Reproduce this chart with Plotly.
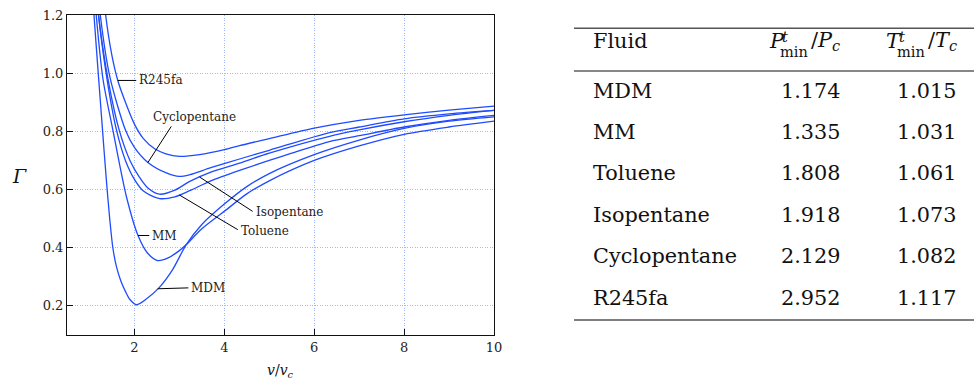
import numpy as np
import plotly.graph_objects as go

# ---------------- data ----------------
fluids = ["MDM", "MM", "Toluene", "Isopentane", "Cyclopentane", "R245fa"]
p_min = ["1.174", "1.335", "1.808", "1.918", "2.129", "2.952"]
t_min = ["1.015", "1.031", "1.061", "1.073", "1.082", "1.117"]

v_MDM = [1.08, 1.10, 1.20, 1.29, 1.375, 1.45, 1.52, 1.60, 1.70, 1.80, 1.90, 2.05, 2.25, 2.55, 2.85, 3.15, 3.50, 4.00, 4.50, 5.00, 6.00, 7.00, 8.00, 9.00, 10.0]
g_MDM = [1.25, 1.20, 0.99, 0.805, 0.634, 0.50, 0.40, 0.335, 0.285, 0.25, 0.222, 0.204, 0.222, 0.263, 0.325, 0.41, 0.48, 0.55, 0.61, 0.655, 0.72, 0.77, 0.81, 0.835, 0.850]

v_MM = [1.12, 1.15, 1.30, 1.52, 1.82, 2.08, 2.30, 2.52, 2.75, 3.00, 3.15, 3.50, 4.00, 4.50, 5.00, 6.00, 7.00, 8.00, 9.00, 10.0]
g_MM = [1.26, 1.20, 0.98, 0.805, 0.577, 0.442, 0.38, 0.356, 0.365, 0.39, 0.41, 0.465, 0.525, 0.585, 0.63, 0.70, 0.75, 0.79, 0.815, 0.835]

v_TOL = [1.17, 1.20, 1.40, 1.60, 1.80, 2.00, 2.20, 2.56, 2.90, 3.23, 3.70, 4.34, 5.00, 5.50, 6.34, 7.00, 8.00, 9.00, 10.0]
g_TOL = [1.25, 1.20, 0.97, 0.805, 0.70, 0.635, 0.595, 0.569, 0.575, 0.596, 0.63, 0.666, 0.70, 0.725, 0.765, 0.785, 0.815, 0.838, 0.855]

v_ISO = [1.17, 1.20, 1.40, 1.66, 1.90, 2.10, 2.30, 2.56, 2.90, 3.23, 3.70, 4.34, 5.00, 6.34, 7.00, 8.00, 9.00, 10.0]
g_ISO = [1.25, 1.20, 0.99, 0.805, 0.70, 0.645, 0.605, 0.584, 0.598, 0.628, 0.66, 0.691, 0.725, 0.783, 0.805, 0.833, 0.855, 0.872]

v_CYC = [1.21, 1.24, 1.45, 1.80, 2.00, 2.30, 2.71, 3.00, 3.23, 3.70, 4.34, 5.00, 6.34, 7.00, 8.00, 9.00, 10.0]
g_CYC = [1.25, 1.20, 0.99, 0.805, 0.745, 0.693, 0.657, 0.645, 0.651, 0.675, 0.705, 0.735, 0.796, 0.815, 0.843, 0.86, 0.872]

v_R245 = [1.33, 1.36, 1.50, 1.63, 1.80, 2.00, 2.20, 2.45, 2.70, 3.00, 3.45, 4.00, 4.34, 5.00, 6.00, 7.00, 8.00, 9.00, 10.0]
g_R245 = [1.25, 1.20, 1.06, 0.975, 0.90, 0.825, 0.775, 0.74, 0.723, 0.714, 0.72, 0.737, 0.751, 0.775, 0.811, 0.838, 0.857, 0.873, 0.887]

curves = {
    "MDM": (v_MDM, g_MDM),
    "MM": (v_MM, g_MM),
    "Toluene": (v_TOL, g_TOL),
    "Isopentane": (v_ISO, g_ISO),
    "Cyclopentane": (v_CYC, g_CYC),
    "R245fa": (v_R245, g_R245),
}

# label: (tip v on curve, leader end v, leader end Gamma, text v, text Gamma)
labels = {
    "R245fa": (1.63, 2.04, 0.975, 2.05, 0.975),
    "Cyclopentane": (2.30, 2.82, 0.817, 2.36, 0.848),
    "Isopentane": (3.45, 4.63, 0.525, 4.66, 0.522),
    "Toluene": (3.00, 4.30, 0.462, 4.32, 0.457),
    "MM": (2.08, 2.33, 0.442, 2.34, 0.442),
    "MDM": (2.52, 3.20, 0.262, 3.21, 0.262),
}

x_ticks = [2, 4, 6, 8, 10]
y_ticks = [0.2, 0.4, 0.6, 0.8, 1.0, 1.2]

# ---------------- figure ----------------
W, H = 974, 381
L, R, T, B = 67, 480, 15, 46
PW, PH = W - L - R, H - T - B

def px_x(px):
    return (px - L) / PW

def px_y(py):
    return (H - B - py) / PH

BLUE = "#1f4bff"
SERIF = "DejaVu Serif"

fig = go.Figure()
for name, (vv, gg) in curves.items():
    fig.add_trace(go.Scatter(x=vv, y=gg, mode="lines", name=name,
                             line=dict(color=BLUE, width=1.3, shape="spline", smoothing=0.8),
                             showlegend=False, hoverinfo="skip"))

annotations = []
shapes = []

def paper_text(px, py, text, size, anchor="left"):
    annotations.append(dict(x=px_x(px), y=px_y(py), xref="paper", yref="paper", text=text,
                            showarrow=False, xanchor=anchor, yanchor="middle",
                            font=dict(family=SERIF, size=size, color="#111")))

for name, (tv, ev, eg, txv, txg) in labels.items():
    vv, gg = curves[name]
    tg = float(np.interp(tv, vv, gg))
    shapes.append(dict(type="line", xref="x", yref="y", x0=tv, y0=tg, x1=ev, y1=eg,
                       line=dict(color="black", width=1)))
    annotations.append(dict(x=txv, y=txg, xref="x", yref="y", text=name, showarrow=False,
                            xanchor="left", yanchor="middle",
                            font=dict(family=SERIF, size=12, color="#222")))

# axis titles
paper_text(19, 176, "<i>Γ</i>", 19, "center")
paper_text(280.5, 371, "<i>v</i>/<i>v</i><sub><i>c</i></sub>", 14, "center")

# ---------------- table ----------------
TFS = 20.8
SFS = TFS * 0.7
row_y = [90.5, 131.8, 173.2, 214.8, 256.3, 297.8]
col_fluid_x = 591
col_p_x = 811
col_t_x = 927

paper_text(col_fluid_x, 41, "Fluid", TFS)
for hx, sym in [(767, "P"), (884, "T")]:
    paper_text(hx, 41, f"<i>{sym}</i>", TFS)
    paper_text(hx + 13, 36, "<i>t</i>", SFS)
    paper_text(hx + 11, 52, "min", SFS)
    paper_text(hx + 42, 41, f"/<i>{sym}</i><sub><i>c</i></sub>", TFS)

for i, f in enumerate(fluids):
    paper_text(col_fluid_x, row_y[i], f, TFS)
    paper_text(col_p_x, row_y[i], p_min[i], TFS, "center")
    paper_text(col_t_x, row_y[i], t_min[i], TFS, "center")

for ry, col, wd in [(28.3, "#555", 1.6), (71, "#111", 1.2), (320, "#555", 1.6)]:
    shapes.append(dict(type="line", xref="paper", yref="paper", x0=px_x(574), x1=px_x(974),
                       y0=px_y(ry), y1=px_y(ry), line=dict(color=col, width=wd)))

axis_common = dict(showline=True, linecolor="#111", linewidth=1, mirror=True,
                   ticks="inside", ticklen=6, tickcolor="#111", automargin=False,
                   showgrid=True, gridcolor="#a3b9ff", griddash="1px,1.5px", gridwidth=1,
                   zeroline=False, tickfont=dict(family=SERIF, size=13, color="#222"))

fig.update_layout(
    width=W, height=H,
    margin=dict(l=L, r=R, t=T, b=B, pad=0, autoexpand=False),
    paper_bgcolor="white", plot_bgcolor="white",
    font=dict(family=SERIF),
    xaxis=dict(range=[0.5, 10], tickvals=x_ticks, ticktext=[str(t) for t in x_ticks], **axis_common),
    yaxis=dict(range=[0.1, 1.2], tickvals=y_ticks, ticktext=[f"{t:.1f}" for t in y_ticks], **axis_common),
    annotations=annotations,
    shapes=shapes,
)

fig.write_html("out.html")
